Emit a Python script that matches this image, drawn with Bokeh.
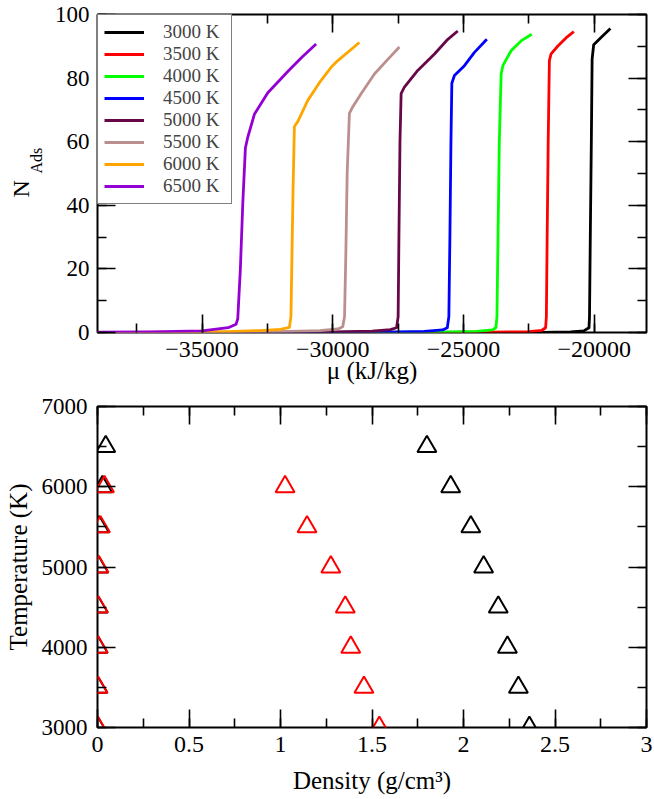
import numpy as np
from bokeh.plotting import figure
from bokeh.models import (LinearAxis, SingleIntervalTicker, Legend, LegendItem, Title,
                          CustomJSTickFormatter)
from bokeh.layouts import column
from bokeh.embed import file_html
from bokeh.resources import INLINE

FONT = "Liberation Serif"

# ---------------- data: adsorption isotherms ----------------
series_labels = ["3000 K", "3500 K", "4000 K", "4500 K", "5000 K", "5500 K", "6000 K", "6500 K"]
series_colors = ["#000000", "#ff0000", "#00ff00", "#0000ff", "#670748", "#bc8f8f", "#ffa500", "#9400d3"]

mu_3000 = [-39000, -25000, -22000, -20900, -20400, -20200, -20180, -20150, -20110, -20080, -20020, -19670, -19380]
n_3000 = [0.0, 0.01, 0.05, 0.2, 0.5, 1.5, 5, 30, 60, 86, 90.5, 93.3, 95.6]

mu_3500 = [-39000, -27000, -24000, -22500, -22000, -21860, -21830, -21800, -21760, -21715, -21650, -21390, -21070, -20780]
n_3500 = [0.0, 0.02, 0.1, 0.3, 0.7, 1.5, 5, 30, 60, 85.5, 87.6, 90.1, 92.7, 94.6]

mu_4000 = [-39000, -29000, -26000, -24500, -23900, -23760, -23720, -23680, -23630, -23560, -23495, -23180, -22800, -22390]
n_4000 = [0.0, 0.02, 0.1, 0.35, 0.8, 1.5, 5, 30, 60, 81.3, 83.9, 88.6, 91.7, 93.8]

mu_4500 = [-39000, -31000, -28000, -26500, -25800, -25620, -25560, -25520, -25480, -25446, -25347, -24964, -24582, -24107]
n_4500 = [0.0, 0.02, 0.1, 0.35, 0.8, 1.5, 5, 30, 60, 78.4, 80.8, 83.9, 88.1, 92.2]

mu_5000 = [-39000, -33000, -30000, -28500, -27800, -27560, -27500, -27470, -27430, -27386, -27260, -26750, -26110, -25600, -25220]
n_5000 = [0.0, 0.03, 0.15, 0.4, 0.9, 1.5, 5, 30, 60, 75.1, 77.2, 82.4, 87.6, 92.2, 94.8]

mu_5500 = [-39000, -35000, -32000, -30500, -29800, -29620, -29550, -29500, -29450, -29364, -29234, -28917, -28408, -27895, -27451]
n_5500 = [0.0, 0.05, 0.25, 0.6, 1.1, 1.8, 5, 25, 50, 68.9, 71, 75.1, 81.3, 85.9, 89.8]

mu_6000 = [-39000, -36000, -34000, -32800, -32000, -31660, -31600, -31560, -31520, -31468, -31340, -30956, -30447, -30065, -29808, -28982]
n_6000 = [0.0, 0.1, 0.3, 0.6, 1.0, 1.6, 5, 25, 45, 64.8, 66.3, 73, 79.3, 83.4, 85.5, 91.2]

mu_6500 = [-39000, -37000, -35000, -34000, -33700, -33635, -33535, -33443, -33343, -33252, -33000, -32486, -31721, -31212, -30638]
n_6500 = [0.1, 0.2, 0.5, 1.5, 2.6, 4.3, 20, 40.5, 58, 61.4, 68.6, 75.4, 82.1, 86.3, 90.7]

mu_series = [mu_3000, mu_3500, mu_4000, mu_4500, mu_5000, mu_5500, mu_6000, mu_6500]
n_series = [n_3000, n_3500, n_4000, n_4500, n_5000, n_5500, n_6000, n_6500]

# ---------------- data: coexistence densities ----------------
temp_black = [6500, 6000, 5500, 5000, 4500, 4000, 3500, 3000]
rho_gas_black = [0.045, 0.027, 0.01, 0.006, 0.004, 0.003, 0.002, 0.001]
rho_liq_black = [1.80, 1.93, 2.04, 2.11, 2.19, 2.24, 2.30, 2.36]

temp_red = [6000, 5500, 5000, 4500, 4000, 3500, 3000]
rho_gas_red = [0.038, 0.016, 0.008, 0.005, 0.004, 0.003, 0.002]
rho_liq_red = [1.025, 1.145, 1.275, 1.354, 1.384, 1.456, 1.54]

FRAME_LEFT = 97


def style_axis(ax, interval, standoff, formatter=None, labels=True, size="23px"):
    ax.ticker = SingleIntervalTicker(interval=interval, num_minor_ticks=2)
    ax.major_tick_in = 18
    ax.major_tick_out = 0
    ax.minor_tick_in = 9
    ax.minor_tick_out = 0
    ax.major_tick_line_width = 1.6
    ax.minor_tick_line_width = 1.6
    ax.major_tick_line_color = "black"
    ax.minor_tick_line_color = "black"
    ax.axis_line_color = None
    if labels:
        ax.major_label_text_font = FONT
        ax.major_label_text_font_size = size
        ax.major_label_text_color = "black"
        ax.major_label_standoff = standoff
        if formatter is not None:
            ax.formatter = formatter
    else:
        ax.formatter = CustomJSTickFormatter(code="return '';")
        ax.major_label_text_font_size = "0px"
        ax.major_label_standoff = 0


def base_fig(height, xr, yr, mbt, mbb):
    p = figure(width=654, height=height, x_range=xr, y_range=yr,
               output_backend="svg", toolbar_location=None,
               min_border_left=FRAME_LEFT, min_border_right=8,
               min_border_top=mbt, min_border_bottom=mbb)
    p.xgrid.visible = False
    p.ygrid.visible = False
    p.outline_line_color = "black"
    p.outline_line_width = 2
    p.background_fill_color = "white"
    p.border_fill_color = "white"
    return p


def axis_title(ax, text):
    ax.axis_label = text
    ax.axis_label_text_font = FONT
    ax.axis_label_text_font_size = "25px"
    ax.axis_label_text_font_style = "normal"
    ax.axis_label_text_color = "black"


# ---------------- top figure ----------------
p1 = base_fig(392, (-39000, -18000), (0, 100), 14, 60)
style_axis(p1.xaxis[0], 5000, 9, size="24px")
style_axis(p1.yaxis[0], 20, 8)
axis_title(p1.xaxis[0], "μ (kJ/kg)")
p1.xaxis[0].axis_label_standoff = -3
top1 = LinearAxis()
right1 = LinearAxis()
style_axis(top1, 5000, 0, labels=False)
style_axis(right1, 20, 0, labels=False)
p1.add_layout(top1, "above")
p1.add_layout(right1, "right")

items = []
for lab, col, xs, ys in zip(series_labels, series_colors, mu_series, n_series):
    r = p1.line(xs, ys, line_color=col, line_width=2.8, line_join="round")
    items.append(LegendItem(label=lab, renderers=[r]))

legend = Legend(items=items, location="top_left", margin=0, padding=6,
                spacing=0, label_height=20, glyph_height=16, glyph_width=40,
                label_standoff=19, label_width=62,
                label_text_font=FONT, label_text_font_size="19px",
                border_line_color="black", border_line_width=1.5,
                background_fill_color="white", background_fill_alpha=1.0)
p1.add_layout(legend)

# y-axis label "N" with subscript "Ads" (two side titles, stacked outwards)
t_ads = Title(text="Ads", align="left", offset=159, standoff=14,
              text_font=FONT, text_font_size="16px", text_font_style="normal",
              text_color="black")
t_n = Title(text="N", align="left", offset=135, standoff=-30,
            text_font=FONT, text_font_size="24px", text_font_style="normal",
            text_color="black")
p1.add_layout(t_ads, "left")
p1.add_layout(t_n, "left")

# ---------------- bottom figure ----------------
num_fmt = CustomJSTickFormatter(code="return String(Math.round(tick*100)/100);")
p2 = base_fig(407, (0, 3), (3000, 7000), 14, 72)
style_axis(p2.xaxis[0], 0.5, 9, formatter=num_fmt, size="24px")
style_axis(p2.yaxis[0], 1000, 10)
axis_title(p2.xaxis[0], "Density (g/cm³)")
p2.xaxis[0].axis_label_standoff = 12
axis_title(p2.yaxis[0], "Temperature (K)")
p2.yaxis[0].axis_label_standoff = 7
top2 = LinearAxis()
right2 = LinearAxis()
style_axis(top2, 0.5, 0, labels=False)
style_axis(right2, 1000, 0, labels=False)
p2.add_layout(top2, "above")
p2.add_layout(right2, "right")

for xs, ys, col in [(rho_gas_black, temp_black, "black"), (rho_liq_black, temp_black, "black"),
                    (rho_gas_red, temp_red, "#ff0000"), (rho_liq_red, temp_red, "#ff0000")]:
    p2.scatter(xs, ys, marker="triangle", size=19, fill_color=None,
               line_color=col, line_width=2)

layout = column(p1, p2, spacing=0)
open("out.html", "w").write(file_html(layout, INLINE))
